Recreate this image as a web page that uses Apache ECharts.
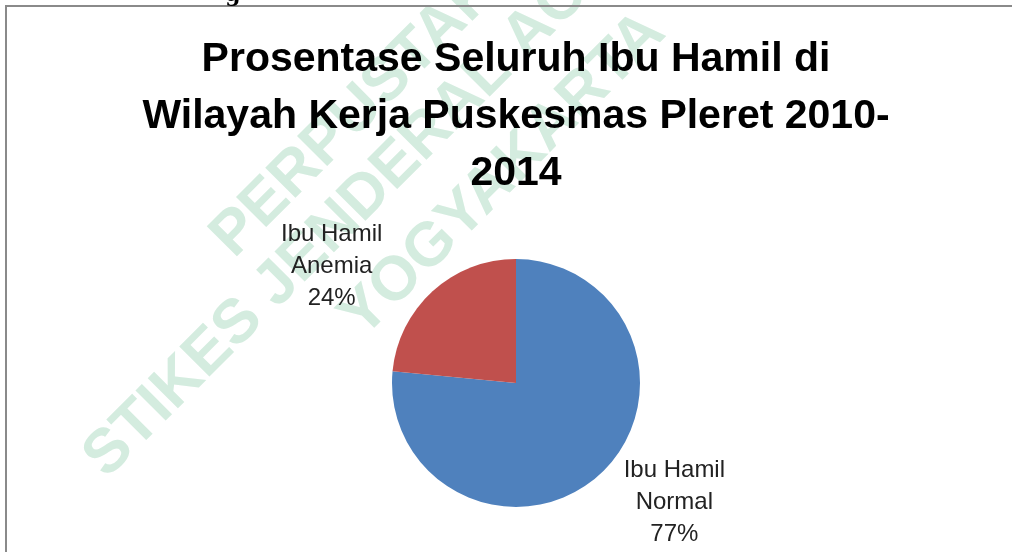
<!DOCTYPE html>
<html>
<head>
<meta charset="utf-8">
<script src="https://cdn.jsdelivr.net/npm/echarts@6/dist/echarts.min.js"></script>
<style>
  html, body { margin: 0; padding: 0; background: #fff; }
  #main { width: 1012px; height: 552px; }
</style>
</head>
<body>
<div id="main"></div>
<script>
// data
var categories = ['Ibu Hamil Normal', 'Ibu Hamil Anemia'];
var labelNames = [['Ibu Hamil', 'Normal'], ['Ibu Hamil', 'Anemia']];
var values = [76.5, 23.5];
var colors = ['#4F81BD', '#C0504D'];
var titleLines = ['Prosentase Seluruh Ibu Hamil di', 'Wilayah Kerja Puskesmas Pleret 2010-', '2014'];
var watermark = ['PERPUSTAKAAN', 'STIKES JENDERAL ACHMAD YANI', 'YOGYAKARTA'];

var total = values.reduce(function (a, b) { return a + b; }, 0);
var FONT = '"Liberation Sans", Arial, sans-serif';
var WM_COLOR = '#d4ecdf';

var chart = echarts.init(document.getElementById('main'));

// watermark sits behind everything, rotated 45deg
var wmPos = [[403, 66], [458, 104], [503, 175]];
var graphics = watermark.map(function (txt, i) {
  return {
    type: 'text',
    x: wmPos[i][0],
    y: wmPos[i][1],
    rotation: Math.PI / 4,
    z: -10,
    silent: true,
    style: {
      text: txt,
      fill: WM_COLOR,
      font: 'bold 62px ' + FONT,
      textAlign: 'center',
      textVerticalAlign: 'middle'
    }
  };
});
// frame of the chart box
graphics.push({
  type: 'rect',
  z: -5,
  silent: true,
  shape: { x: 6, y: 6, width: 1100, height: 600 },
  style: { fill: 'none', stroke: '#8a8a8a', lineWidth: 2 }
});
// bit of the document heading above the box
graphics.push({
  type: 'text',
  x: 233,
  y: 6,
  silent: true,
  style: {
    text: 'g',
    fill: '#000',
    font: 'bold 22px "DejaVu Serif", serif',
    textAlign: 'center',
    textVerticalAlign: 'bottom'
  }
});

var option = {
  animation: false,
  backgroundColor: '#fff',
  title: {
    text: titleLines.join('\n'),
    left: 516,
    top: 31,
    padding: 0,
    textAlign: 'center',
    textStyle: {
      fontFamily: FONT,
      fontWeight: 'bold',
      fontSize: 41,
      lineHeight: 57,
      color: '#000'
    }
  },
  graphic: graphics,
  series: [{
    type: 'pie',
    center: [516, 383],
    radius: 124,
    startAngle: 90,
    clockwise: true,
    avoidLabelOverlap: false,
    label: {
      show: true,
      position: 'outside',
      distanceToLabelLine: 0,
      formatter: function (p) {
        var pct = Math.round(p.value / total * 100);
        var lines = labelNames[p.dataIndex].concat([pct + '%']);
        return lines.map(function (s) { return '{a|' + s + '}'; }).join('\n');
      },
      rich: {
        a: {
          width: 100,
          align: 'center',
          fontFamily: FONT,
          fontSize: 24,
          lineHeight: 32,
          color: '#222'
        }
      }
    },
    labelLine: { show: false },
    data: categories.map(function (name, i) {
      return {
        name: name,
        value: values[i],
        itemStyle: { color: colors[i] },
        labelLine: i === 0 ? { length: 37, length2: 0 } : { length: 34, length2: 28 }
      };
    })
  }]
};

chart.setOption(option);
</script>
</body>
</html>
